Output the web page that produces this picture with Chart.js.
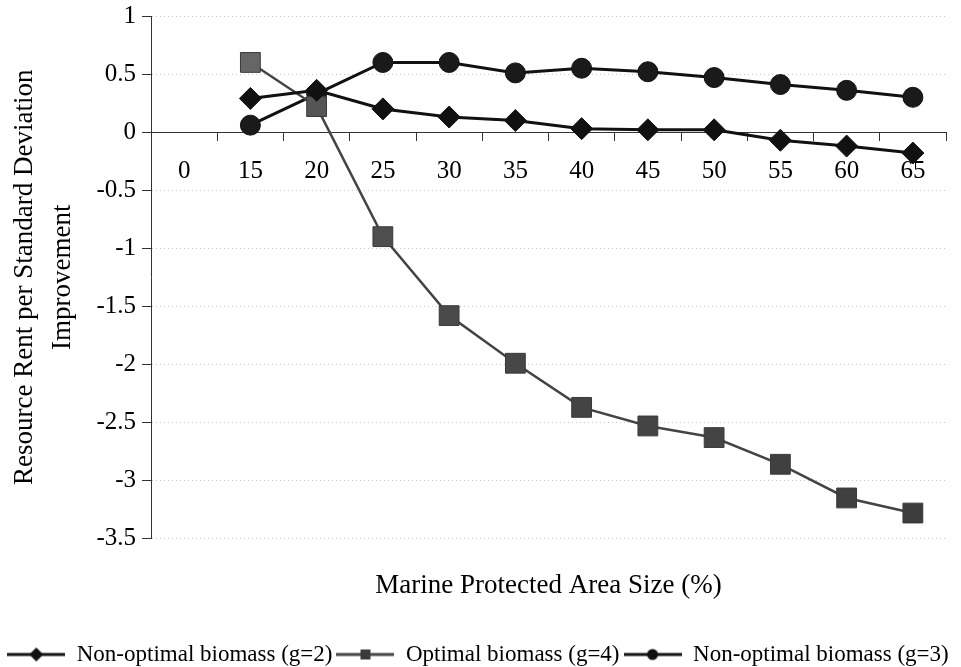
<!DOCTYPE html>
<html lang="en">
<head>
    <meta charset="UTF-8">
    <title>Resource Rent per Standard Deviation Improvement</title>
    <script src="https://cdn.jsdelivr.net/npm/chart.js"></script>
    <style>
        html, body { margin: 0; padding: 0; background: #fff; }
        .chart-box { width: 961px; height: 667px; }
    </style>
    <script type="text/javascript">
        // x categories : MPA size (%)
        var sizeLabels = ["0", "15", "20", "25", "30", "35", "40", "45", "50", "55", "60", "65"];
        // series values (0% has no data)
        var nonOptimalG2 = [null, 0.29, 0.36, 0.20, 0.13, 0.10, 0.03, 0.02, 0.02, -0.07, -0.12, -0.18];
        var optimalG4 = [null, 0.60, 0.22, -0.90, -1.58, -1.99, -2.37, -2.53, -2.63, -2.86, -3.15, -3.28];
        var nonOptimalG3 = [null, 0.06, 0.33, 0.60, 0.60, 0.51, 0.55, 0.52, 0.47, 0.41, 0.36, 0.30];
        var seriesNames = ["Non-optimal biomass (g=2)", "Optimal biomass (g=4)", "Non-optimal biomass (g=3)"];
        // y axis ticks
        var yMin = -3.5;
        var yMax = 1;
        var yStep = 0.5;

        var serif = "'Liberation Serif', 'Times New Roman', serif";

        // legend symbol : line with the marker in the middle
        function legendIcon(shape, lineColor, fillColor) {
            var c = document.createElement("canvas");
            c.width = 58;
            c.height = 20;
            var g = c.getContext("2d");
            g.strokeStyle = lineColor;
            g.lineWidth = 3;
            g.beginPath();
            g.moveTo(0, 10);
            g.lineTo(58, 10);
            g.stroke();
            g.fillStyle = fillColor;
            g.beginPath();
            if (shape === "diamond") {
                g.moveTo(29, 3); g.lineTo(36, 10); g.lineTo(29, 17); g.lineTo(22, 10);
            } else if (shape === "square") {
                g.rect(24, 5, 10, 10);
            } else {
                g.arc(29, 10, 5.5, 0, Math.PI * 2);
            }
            g.closePath();
            g.fill();
            return c;
        }

        window.onload = function () {
            var icons = [
                legendIcon("diamond", "#111", "#111"),
                legendIcon("square", "#444", "#3a3a3a"),
                legendIcon("circle", "#111", "#111")
            ];

            var ctx = document.querySelector(".custom-chart");
            new Chart(ctx, {
                type: "line",
                data: {
                    labels: sizeLabels,
                    datasets: [{
                        label: seriesNames[0],
                        data: nonOptimalG2,
                        borderColor: "#111",
                        backgroundColor: "#111",
                        borderWidth: 3,
                        pointStyle: "rectRot",
                        pointRadius: 11,
                        pointBorderWidth: 1
                    }, {
                        label: seriesNames[1],
                        data: optimalG4,
                        borderColor: "#444",
                        backgroundColor: ["#4e4e4e", "#666", "#555", "#4e4e4e", "#4a4a4a", "#474747", "#444", "#444", "#444", "#404040", "#404040", "#3c3c3c"],
                        pointBorderColor: "#3a3a3a",
                        borderWidth: 2.5,
                        pointStyle: "rect",
                        pointRadius: 14,
                        pointBorderWidth: 1
                    }, {
                        label: seriesNames[2],
                        data: nonOptimalG3,
                        borderColor: "#111",
                        backgroundColor: "#1a1a1a",
                        borderWidth: 3,
                        pointStyle: "circle",
                        pointRadius: 10,
                        pointBorderWidth: 1
                    }]
                },
                options: {
                    responsive: false,
                    animation: false,
                    layout: {
                        padding: { top: 16, right: 5, bottom: -9, left: 0 }
                    },
                    plugins: {
                        tooltip: { enabled: false },
                        legend: {
                            position: "bottom",
                            labels: {
                                usePointStyle: true,
                                pointStyleWidth: 58,
                                padding: 4,
                                color: "#000",
                                font: { family: serif, size: 23 },
                                generateLabels: function (chart) {
                                    return chart.data.datasets.map(function (ds, i) {
                                        return {
                                            text: ds.label,
                                            pointStyle: icons[i],
                                            fillStyle: "#000",
                                            strokeStyle: "#000",
                                            lineWidth: 0,
                                            hidden: false,
                                            datasetIndex: i
                                        };
                                    });
                                }
                            }
                        }
                    },
                    scales: {
                        x: {
                            type: "category",
                            axis: "x",
                            position: { y: 0 },
                            offset: true,
                            grid: {
                                offset: true,
                                drawOnChartArea: false,
                                tickLength: 8,
                                tickColor: "#333"
                            },
                            border: { color: "#333", width: 1 },
                            ticks: {
                                color: "#000",
                                padding: 16,
                                maxRotation: 0,
                                font: { family: serif, size: 25 }
                            }
                        },
                        x2: {
                            type: "category",
                            axis: "x",
                            position: "bottom",
                            labels: sizeLabels,
                            grid: { display: false },
                            border: { display: false },
                            ticks: { display: false },
                            title: {
                                display: true,
                                text: "Marine Protected Area Size (%)",
                                color: "#000",
                                font: { family: serif, size: 27 },
                                padding: { top: 23, bottom: 37 }
                            }
                        },
                        y: {
                            min: yMin,
                            max: yMax,
                            ticks: {
                                stepSize: yStep,
                                color: "#000",
                                padding: 6,
                                font: { family: serif, size: 25 },
                                callback: function (value) {
                                    return String(value);
                                }
                            },
                            grid: {
                                color: "#c8c8c8",
                                lineWidth: 1,
                                tickLength: 9,
                                tickColor: "#333"
                            },
                            border: { color: "#333", width: 1, dash: [1, 3] },
                            title: {
                                display: true,
                                text: ["Resource Rent per Standard Deviation", "Improvement"],
                                color: "#000",
                                font: { family: serif, size: 27, lineHeight: 1.4 },
                                padding: { top: 6, bottom: 0 }
                            },
                            afterFit: function (scale) {
                                scale.width = 151;
                                scale.paddingTop = 0;
                                scale.paddingBottom = 0;
                            }
                        }
                    }
                }
            });
        };
    </script>
</head>
<body>
    <div class="chart-box">
        <canvas class="custom-chart" width="961" height="667"></canvas>
    </div>
</body>
</html>
